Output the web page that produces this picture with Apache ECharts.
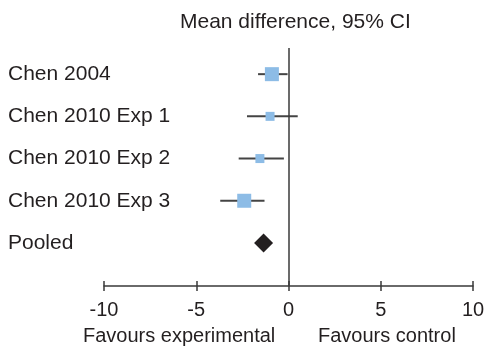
<!DOCTYPE html>
<html>
<head>
<meta charset="utf-8">
<script src="https://cdn.jsdelivr.net/npm/echarts@6/dist/echarts.min.js"></script>
<style>
  html, body { margin: 0; padding: 0; background: #fff; }
  #chart { width: 490px; height: 353px; }
</style>
</head>
<body>
<div id="chart"></div>
<script>
// study rows, top to bottom
var studies = ['Chen 2004', 'Chen 2010 Exp 1', 'Chen 2010 Exp 2', 'Chen 2010 Exp 3'];
var meanDiff = [-0.9, -1.0, -1.55, -2.4];
var ciLow = [-1.65, -2.25, -2.7, -3.7];
var ciHigh = [-0.05, 0.5, -0.25, -1.3];
var pooledLabel = 'Pooled';
var pooledMean = -1.35;
var xTicks = [-10, -5, 0, 5, 10];

var rowNames = studies.concat([pooledLabel]);
var squareSizes = [14, 9, 9, 14];
var textColor = '#231f20';
var axisColor = '#3a3a3a';
var font = 'Liberation Sans, Arial, sans-serif';

var myChart = echarts.init(document.getElementById('chart'));

var barData = studies.map(function (s, i) {
  return [ciLow[i], ciHigh[i], i + 1];
});
var squareData = studies.map(function (s, i) {
  return { value: [meanDiff[i], i + 1], symbolSize: squareSizes[i] };
});

option = {
  animation: false,
  title: [
    { text: 'Mean difference, 95% CI', left: 175, top: 7,
      textStyle: { fontSize: 21, fontWeight: 'normal', color: textColor, fontFamily: font } },
    { text: 'Favours experimental', left: 78, top: 321,
      textStyle: { fontSize: 20, fontWeight: 'normal', color: textColor, fontFamily: font } },
    { text: 'Favours control', left: 313, top: 321,
      textStyle: { fontSize: 20, fontWeight: 'normal', color: textColor, fontFamily: font } }
  ],
  grid: { left: 104, right: 17, top: 48, bottom: 67 },
  xAxis: [{
    type: 'value',
    min: xTicks[0],
    max: xTicks[xTicks.length - 1],
    interval: 5,
    splitLine: { show: false },
    axisLine: { onZero: false, lineStyle: { color: axisColor, width: 1.5 } },
    axisTick: { length: 5, lineStyle: { color: axisColor, width: 1.5 } },
    axisLabel: { fontSize: 20, color: textColor, fontFamily: font, margin: 14 }
  }, {
    type: 'value',
    position: 'bottom',
    offset: 0,
    min: xTicks[0],
    max: xTicks[xTicks.length - 1],
    interval: 5,
    splitLine: { show: false },
    axisLine: { show: false, onZero: false },
    axisTick: { inside: true, length: 5, lineStyle: { color: axisColor, width: 1.5 } },
    axisLabel: { show: false }
  }],
  yAxis: {
    type: 'value',
    inverse: true,
    min: 0.38,
    max: 6.02,
    splitLine: { show: false },
    axisLine: { show: false },
    axisTick: { show: false },
    axisLabel: {
      customValues: [1, 2, 3, 4, 5],
      formatter: function (v) { return rowNames[Math.round(v) - 1] || ''; },
      align: 'left',
      margin: 96,
      fontSize: 21,
      color: textColor,
      fontFamily: font
    }
  },
  series: [{
    type: 'custom',
    renderItem: function (params, api) {
      var a = api.coord([api.value(0), api.value(2)]);
      var b = api.coord([api.value(1), api.value(2)]);
      return {
        type: 'line',
        shape: { x1: a[0], y1: a[1], x2: b[0], y2: b[1] },
        style: { stroke: '#444', lineWidth: 2 }
      };
    },
    encode: { x: [0, 1], y: 2 },
    data: barData,
    markLine: {
      silent: true,
      symbol: 'none',
      label: { show: false },
      lineStyle: { color: axisColor, width: 1.5, type: 'solid' },
      data: [{ xAxis: 0 }]
    },
    z: 2
  }, {
    type: 'scatter',
    symbol: 'rect',
    itemStyle: { color: '#8dbce6', opacity: 1 },
    data: squareData,
    z: 3
  }, {
    type: 'scatter',
    symbol: 'diamond',
    symbolSize: [19, 19],
    itemStyle: { color: textColor, opacity: 1 },
    data: [[pooledMean, rowNames.length]],
    z: 3
  }]
};
myChart.setOption(option);
</script>
</body>
</html>
